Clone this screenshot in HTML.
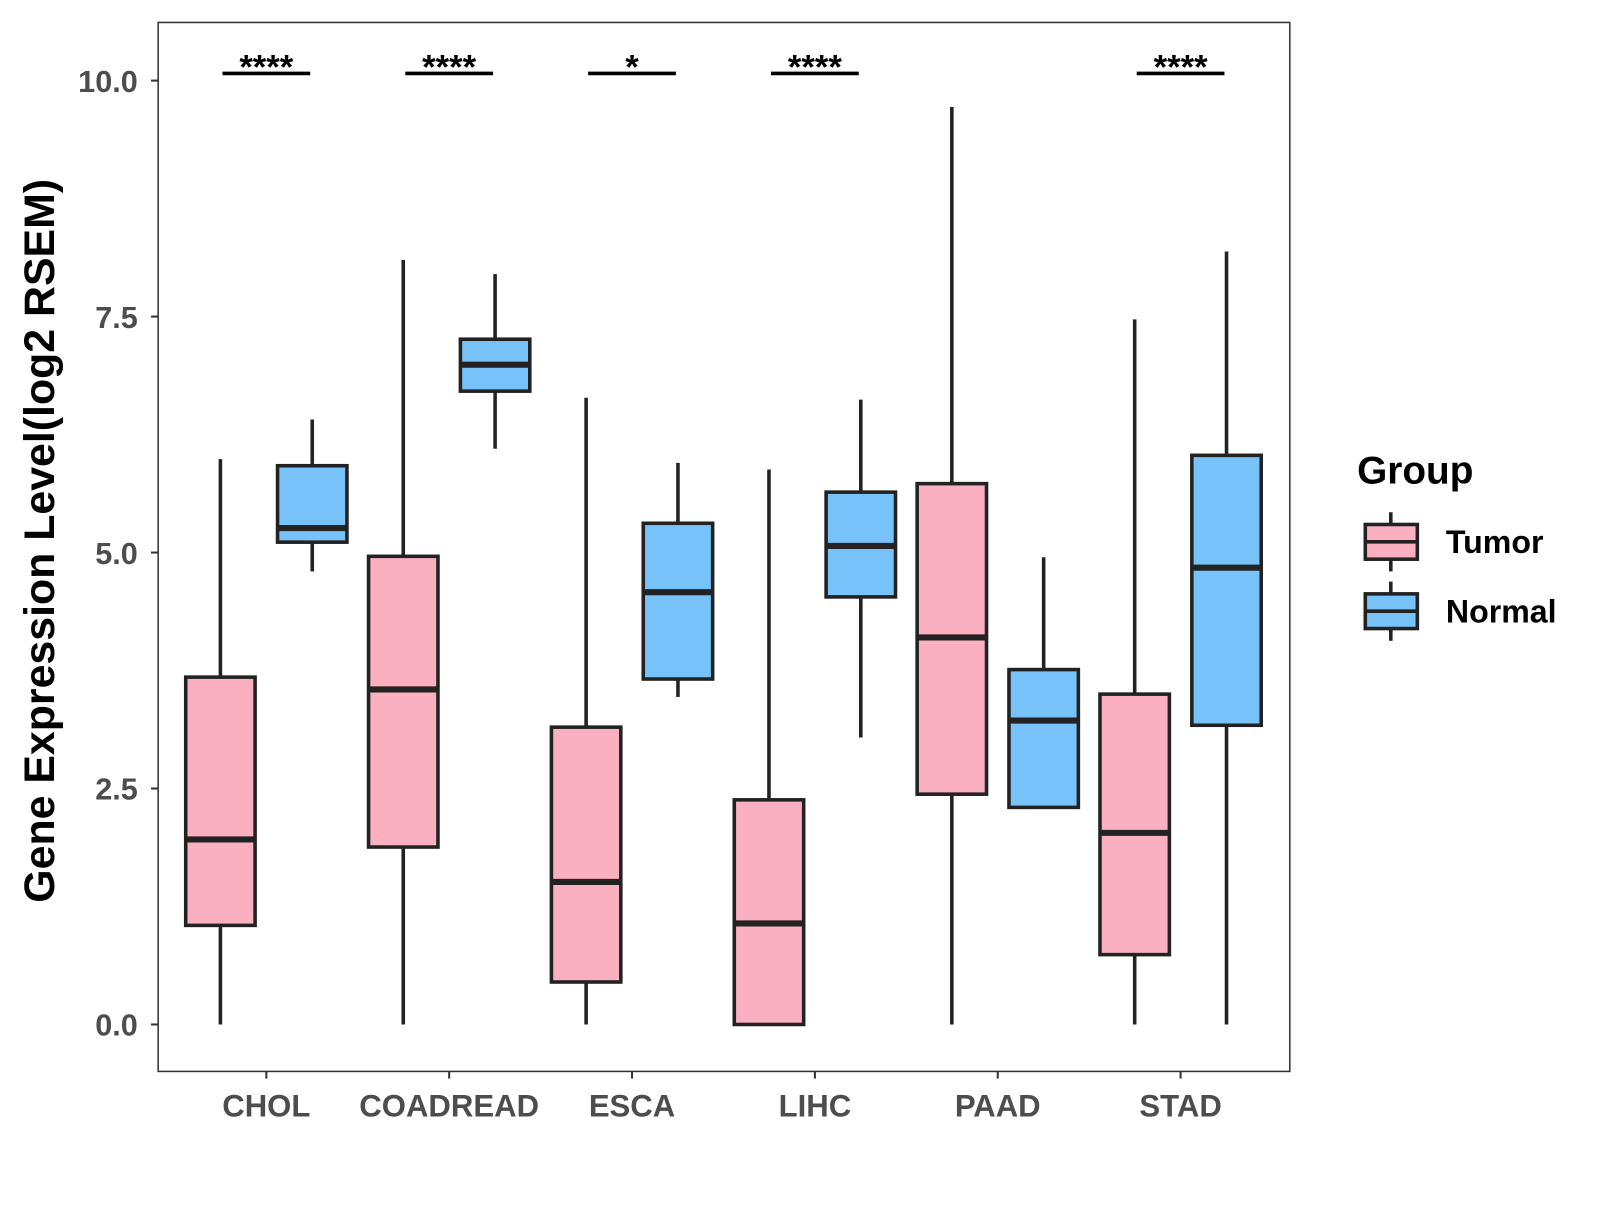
<!DOCTYPE html>
<html><head><meta charset="utf-8"><style>
body{margin:0;background:#fff}
svg text{font-family:"Liberation Sans",Arial,sans-serif;font-weight:bold}
</style></head><body>
<svg id="c" width="1600" height="1200" xmlns="http://www.w3.org/2000/svg">
<rect width="1600" height="1200" fill="#fff"/>
<g id="plot" transform="scale(1.0204)"></g>
</svg>
<script>
const categories=["CHOL","COADREAD","ESCA","LIHC","PAAD","STAD"];
const tumorStats=[[0,1.05,1.96,3.68,5.99],[0,1.88,3.55,4.96,8.1],[0,0.45,1.51,3.15,6.64],[0,0,1.07,2.38,5.88],[0,2.44,4.1,5.73,9.72],[0,0.74,2.03,3.5,7.47]];
const normalStats=[[4.8,5.11,5.26,5.92,6.41],[6.1,6.71,6.99,7.26,7.95],[3.47,3.66,4.58,5.31,5.95],[3.04,4.53,5.07,5.64,6.62],[2.3,2.3,3.22,3.76,4.95],[0,3.17,4.84,6.03,8.19]];
const signif=["****","****","*","****","","****"];
const yTicks=[0,2.5,5,7.5,10];
const yTickLabels=["0.0","2.5","5.0","7.5","10.0"];
const NS="http://www.w3.org/2000/svg";
const g=document.getElementById('plot');
const L=155,T=22,R=1264,B=1050;
const y=v=>1004-v*92.5;
const x=i=>261+i*179.2;
function mk(t,a,txt){const e=document.createElementNS(NS,t);for(const k in a)e.setAttribute(k,a[k]);if(txt!==undefined)e.textContent=txt;g.appendChild(e);return e;}
let e=mk('rect',{x:L,y:T,width:R-L,height:B-T,fill:'#fff',stroke:'#333','stroke-width':1.5});


yTicks.forEach((v,i)=>{
 let t=mk('line',{x1:L-7,x2:L,y1:y(v),y2:y(v),stroke:'#333','stroke-width':2});
 
 
 let l=mk('text',{x:L-20,y:y(v)+11,'text-anchor':'end','font-size':30,fill:'#4d4d4d'},yTickLabels[i]);
 
 
});
function box(cx,s,fill,name){
 const w=68;
 let a=mk('line',{x1:cx,x2:cx,y1:y(s[4]),y2:y(s[3]),stroke:'#222','stroke-width':3.5});
 
 
 let b=mk('line',{x1:cx,x2:cx,y1:y(s[1]),y2:y(s[0]),stroke:'#222','stroke-width':3.5});
 
 
 let r=mk('rect',{x:cx-w/2,y:y(s[3]),width:w,height:y(s[1])-y(s[3]),fill:fill,stroke:'#222','stroke-width':3.5});
 
 
 let m=mk('line',{x1:cx-w/2,x2:cx+w/2,y1:y(s[2]),y2:y(s[2]),stroke:'#222','stroke-width':6});
 
 
}
categories.forEach((c,i)=>{
 const cx=x(i);
 box(cx-45,tumorStats[i],'#fbb0c1',c.toLowerCase()+'-tumor');
 box(cx+45,normalStats[i],'#77c2f8',c.toLowerCase()+'-normal');
 let t=mk('line',{x1:cx,x2:cx,y1:B,y2:B+7,stroke:'#333','stroke-width':2});
 
 
 let l=mk('text',{x:cx,y:1094,'text-anchor':'middle','font-size':30.5,fill:'#4d4d4d'},c);
 
 
 if(signif[i]){
  let s=mk('line',{x1:cx-43,x2:cx+43,y1:72,y2:72,stroke:'#000','stroke-width':3.5});
  
  
  let st=mk('text',{x:cx,y:77,'text-anchor':'middle','font-size':34,fill:'#000'},signif[i]);
  
  
 }
});
let yl=mk('text',{x:0,y:0,transform:'translate(53,530) rotate(-90)','text-anchor':'middle','font-size':42,fill:'#000'},'Gene Expression Level(log2 RSEM)');


let lt=mk('text',{x:1330,y:474,'font-size':38,fill:'#000'},'Group');


[['Tumor','#fbb0c1',531],['Normal','#77c2f8',599]].forEach(([n,f,cy])=>{
 let k=mk('line',{x1:1363,x2:1363,y1:cy-29,y2:cy+29,stroke:'#222','stroke-width':3.5});
 
 
 let r=mk('rect',{x:1338,y:cy-17,width:51,height:34,fill:f,stroke:'#222','stroke-width':3.5});
 
 
 let m=mk('line',{x1:1338,x2:1389,y1:cy,y2:cy,stroke:'#222','stroke-width':3.5});
 
 
 let t=mk('text',{x:1417,y:cy+11,'font-size':31.5,fill:'#000'},n);
 
 
});
</script>
</body></html>
